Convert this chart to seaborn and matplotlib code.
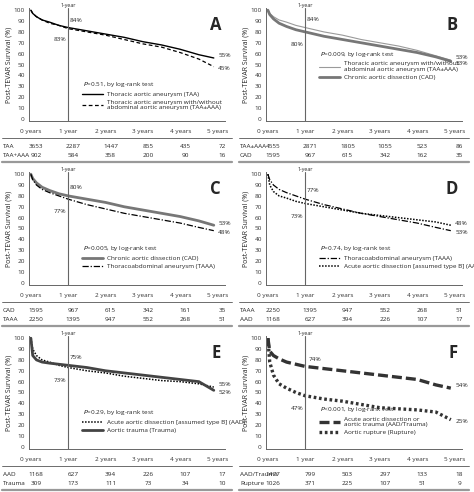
import numpy as np
import pandas as pd
import matplotlib
matplotlib.use("Agg")
import matplotlib.pyplot as plt
import seaborn as sns

sns.set_style("white")
plt.rcParams['font.family'] = ['Open Sans', 'DejaVu Sans']

# survival curves read at these times (years)
times = [0, 0.05, 0.15, 0.3, 0.5, 0.75, 1, 1.5, 2, 2.5, 3, 3.5, 4, 4.5, 4.9]

taa_a = [100, 97, 94, 91, 89, 86, 84, 81, 78, 75, 71, 68, 64, 59, 56]
taaaaa_a = [100, 97, 94, 91, 88, 86, 83, 80, 77, 73, 69, 66, 61, 55, 48]
taaaaa_b = [100, 97, 94, 91, 89, 86, 84, 80, 77, 73, 70, 67, 63, 58, 54]
cad_b = [100, 96, 92, 88, 85, 82, 80, 76, 73, 70, 67, 64, 61, 57, 53]
cad_c = [100, 96, 92, 88, 85, 82, 80, 77, 74, 70, 67, 64, 61, 57, 53]
taaa_c = [100, 95, 90, 86, 83, 80, 77, 72, 68, 64, 61, 58, 55, 51, 48]
taaa_d = [100, 95, 90, 86, 83, 80, 77, 72, 68, 64, 61, 58, 55, 51, 48]
aad_d = [100, 90, 84, 80, 78, 75, 73, 70, 67, 64, 62, 60, 58, 56, 53]
aad_e = [100, 90, 84, 80, 78, 75, 73, 70, 68, 65, 63, 61, 60, 58, 55]
trauma_e = [100, 84, 80, 78, 77, 76, 75, 73, 70, 68, 66, 64, 62, 60, 52]
aadtr_f = [100, 88, 84, 81, 78, 76, 74, 72, 70, 68, 66, 64, 62, 57, 54]
rupt_f = [100, 78, 66, 58, 54, 50, 47, 44, 42, 39, 36, 35, 34, 32, 25]

year_labels = ["0 years", "1 year", "2 years", "3 years", "4 years", "5 years"]

panels = [
    dict(letter="A", p="$P$=0.51, by log-rank test",
         series=[("Thoracic aortic aneurysm (TAA)", taa_a, "black", 1.0, "-"),
                 ("Thoracic aortic aneurysm with/without\nabdominal aortic aneurysm (TAA±AAA)", taaaaa_a, "black", 0.9, (0, (3, 2)))],
         pct=[("84%", 84, 0.05, 5), ("83%", 83, -0.05, -8)], endpct=["55%", "45%"],
         rows=[("TAA", [3653, 2287, 1447, 855, 435, 72]), ("TAA+AAA", [902, 584, 358, 200, 90, 16])],
         ptext=(1.4, 27)),
    dict(letter="B", p="$P$=0.009, by log-rank test",
         series=[("Thoracic aortic aneurysm with/without\nabdominal aortic aneurysm (TAA±AAA)", taaaaa_b, "#9a9a9a", 0.8, "-"),
                 ("Chronic aortic dissection (CAD)", cad_b, "#777777", 2.0, "-")],
         pct=[("84%", 84, 0.05, 6), ("80%", 80, -0.05, -9)], endpct=["53%", "53%"],
         rows=[("TAA±AAA", [4555, 2871, 1805, 1055, 523, 86]), ("CAD", [1595, 967, 615, 342, 162, 35])],
         ptext=(1.4, 55)),
    dict(letter="C", p="$P$=0.005, by log-rank test",
         series=[("Chronic aortic dissection (CAD)", cad_c, "#777777", 2.0, "-"),
                 ("Thoracoabdominal aneurysm (TAAA)", taaa_c, "black", 0.9, (0, (5, 1.5, 1, 1.5)))],
         pct=[("80%", 80, 0.05, 6), ("77%", 77, -0.05, -9)], endpct=["53%", "48%"],
         rows=[("CAD", [1595, 967, 615, 342, 161, 35]), ("TAAA", [2250, 1395, 947, 552, 268, 51])],
         ptext=(1.4, 27)),
    dict(letter="D", p="$P$=0.74, by log-rank test",
         series=[("Thoracoabdominal aneurysm (TAAA)", taaa_d, "black", 0.9, (0, (5, 1.5, 1, 1.5))),
                 ("Acute aortic dissection [assumed type B] (AAD)", aad_d, "black", 1.1, (0, (1, 1)))],
         pct=[("77%", 77, 0.05, 6), ("73%", 73, -0.05, -9)], endpct=["53%", "48%"],
         rows=[("TAAA", [2250, 1395, 947, 552, 268, 51]), ("AAD", [1168, 627, 394, 226, 107, 17])],
         ptext=(1.4, 27)),
    dict(letter="E", p="$P$=0.29, by log-rank test",
         series=[("Acute aortic dissection [assumed type B] (AAD)", aad_e, "black", 1.1, (0, (1, 1))),
                 ("Aortic trauma (Trauma)", trauma_e, "#444444", 2.0, "-")],
         pct=[("75%", 75, 0.05, 6), ("73%", 73, -0.05, -9)], endpct=["55%", "52%"],
         rows=[("AAD", [1168, 627, 394, 226, 107, 17]), ("Trauma", [309, 173, 111, 73, 34, 10])],
         ptext=(1.4, 27)),
    dict(letter="F", p="$P$<0.001, by log-rank test",
         series=[("Acute aortic dissection or\naortic trauma (AAD/Trauma)", aadtr_f, "#333333", 2.4, (0, (3, 1.2))),
                 ("Aortic rupture (Rupture)", rupt_f, "#333333", 2.4, (0, (0.8, 0.8)))],
         pct=[("74%", 74, 0.08, 5), ("47%", 47, -0.05, -9)], endpct=["54%", "25%"],
         rows=[("AAD/Trauma", [1477, 799, 503, 297, 133, 18]), ("Rupture", [1026, 371, 225, 107, 51, 9])],
         ptext=(1.4, 30)),
]

W, H = 474, 492
FS = 4.6
fig = plt.figure(figsize=(W / 100, H / 100), dpi=100)


def fx(px):
    return px / W


def fy(py):
    return 1 - py / H


for i, pn in enumerate(panels):
    x0 = 237 * (i % 2)
    y0 = 164 * (i // 2)
    ax = fig.add_axes([fx(x0 + 29), fy(y0 + 121), 196 / W, 113 / H])
    rows = []
    for name, vals, c, lw, ls in pn["series"]:
        for t, v in zip(times, vals):
            rows.append(dict(t=t, s=v, name=name))
    df = pd.DataFrame(rows)
    for name, vals, c, lw, ls in pn["series"]:
        sns.lineplot(data=df[df.name == name], x="t", y="s", ax=ax, color=c,
                     lw=lw, linestyle=ls, label=name)
    ax.set_xlim(-0.05, 5.2)
    ax.set_ylim(-2, 102)
    ax.set_yticks(range(0, 101, 10))
    ax.set_xticks(range(6))
    ax.set_xticklabels(year_labels)
    ax.tick_params(labelsize=FS, length=2, pad=1, colors="#333333")
    ax.tick_params(axis="x", pad=4)
    ax.set_xlabel("")
    ax.set_ylabel("Post-TEVAR Survival (%)", fontsize=5, labelpad=1)
    for sp in ["top", "right"]:
        ax.spines[sp].set_visible(False)
    for sp in ["left", "bottom"]:
        ax.spines[sp].set_color("#666666")
        ax.spines[sp].set_linewidth(0.7)
    ax.axvline(1, color="#666666", lw=0.8)
    ax.text(1, 102, "1-year", fontsize=3.8, ha="center", va="bottom", clip_on=False)
    for lab, v, dx, dy in pn["pct"]:
        ax.annotate(lab, (1 + dx, v), xytext=(0, dy), textcoords="offset points",
                    fontsize=FS, ha="left" if dx > 0 else "right", va="center")
    ends = [s[1][-1] for s in pn["series"]]
    same = len(set(ends)) == 1
    for lab, v in zip(pn["endpct"], ends):
        if same:
            if lab != pn["endpct"][0] or v != ends[0] or ends.index(v) != pn["endpct"].index(lab):
                continue
            yy = v
        else:
            yy = v + (2 if v == max(ends) else -2)
        ax.text(5.02, yy, lab, fontsize=FS, va="center", clip_on=False)
    ax.text(0.98, 0.93, pn["letter"], transform=ax.transAxes, fontsize=12,
            fontweight="bold", ha="right", va="top")
    px, py = pn["ptext"]
    ax.text(px, py, pn["p"], fontsize=FS, va="bottom")
    ax.legend(loc="upper left", bbox_to_anchor=((px + 0.05) / 5.25 - 0.01, (py + 1) / 104),
              frameon=False, fontsize=FS, handlelength=3.2, labelspacing=0.35,
              borderaxespad=0, borderpad=0.2, handletextpad=0.6)
    # number at risk table
    fig.add_artist(plt.Line2D([fx(x0 + 2), fx(x0 + 232)], [fy(y0 + 138)] * 2,
                              color="#555555", lw=0.6))
    for r, (rl, nums) in enumerate(pn["rows"]):
        yy = fy(y0 + 146 + 9.5 * r)
        fig.text(fx(x0 + 3), yy, rl, fontsize=FS, va="center")
        for k, n in enumerate(nums):
            xp = x0 + 29 + (k + 0.05) * (196 / 5.25)
            fig.text(fx(xp + 5), yy, str(n), fontsize=FS, va="center", ha="center")
    fig.add_artist(plt.Line2D([fx(x0 + 2), fx(x0 + 232)], [fy(y0 + 162)] * 2,
                              color="#999999", lw=1.6))

fig.savefig("out.png", dpi=100)
